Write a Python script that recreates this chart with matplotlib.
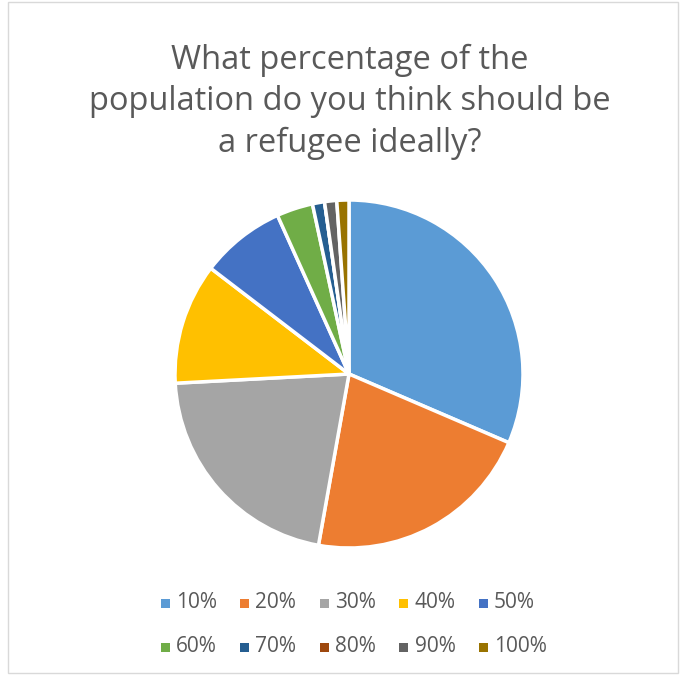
import matplotlib.pyplot as plt
from matplotlib.patches import Rectangle

labels = ['10%', '20%', '30%', '40%', '50%', '60%', '70%', '80%', '90%', '100%']
counts = [28, 19, 19, 10, 7, 3, 1, 0, 1, 1]
colors = ['#5B9BD5', '#ED7D31', '#A5A5A5', '#FFC000', '#4472C4',
          '#70AD47', '#255E91', '#9E480E', '#636363', '#997300']
title = 'What percentage of the\npopulation do you think should be\na refugee ideally?'

plt.rcParams['font.family'] = ['Open Sans', 'DejaVu Sans']
W, H = 682, 675
fig = plt.figure(figsize=(W / 100, H / 100), dpi=100)

# chart border
fig.patches.append(Rectangle((8 / W, 2 / H), 670 / W, 671 / H, transform=fig.transFigure,
                             fill=False, edgecolor='#D9D9D9', linewidth=1))

ax = fig.add_axes([175 / W, 127 / H, 348 / W, 348 / H])
ax.pie(counts, colors=colors, startangle=90, counterclock=False,
       wedgeprops=dict(edgecolor='white', linewidth=2.5))
ax.set_aspect('equal')
ax.set_xlim(-1, 1)
ax.set_ylim(-1, 1)
ax.axis('off')

fig.text(350 / W, 1 - 102 / H, title, ha='center', va='center', fontsize=23.5,
         color='#595959', linespacing=1.32)

# legend laid out like Excel: 5 columns, 2 rows
for i, (lab, c) in enumerate(zip(labels, colors)):
    col, row = i % 5, i // 5
    x = (165 + 79.5 * col) / W
    y = 1 - (603 + 44 * row) / H
    fig.patches.append(Rectangle((x - 4.5 / W, y - 4.5 / H), 9 / W, 9 / H,
                                 transform=fig.transFigure, facecolor=c, edgecolor='none'))
    fig.text(x + 11 / W, y, lab, ha='left', va='center', fontsize=15, color='#595959')

fig.savefig('out.png', dpi=100)
